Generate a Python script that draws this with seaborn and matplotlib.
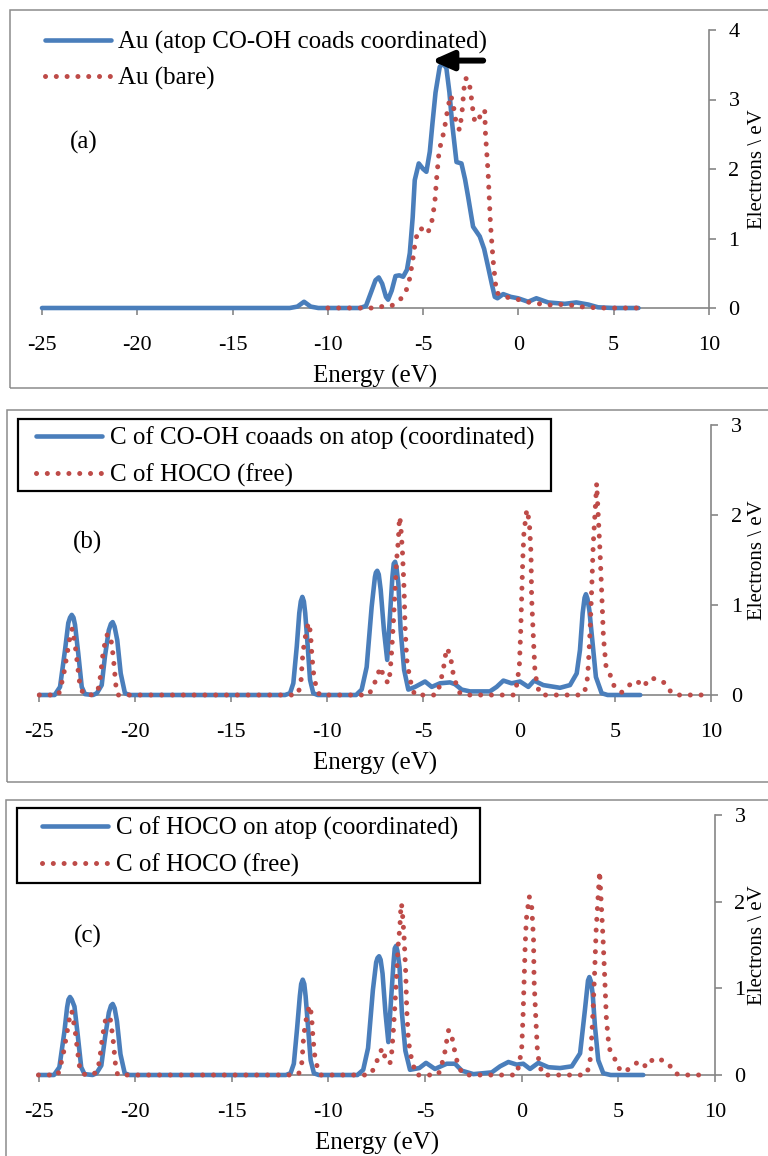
import matplotlib
matplotlib.use("Agg")
import matplotlib.pyplot as plt
import seaborn as sns
import pandas as pd
from matplotlib.patches import Rectangle

# --- Datos (energia en eV, DOS en electrones/eV) ---

# (a) Au
au_coord_e = [-25, -12.0, -11.6, -11.25, -10.9, -10.5, -8.3, -8.0, -7.7, -7.5, -7.33, -7.15, -6.95,
              -6.84, -6.65, -6.45, -6.25, -6.05, -5.85, -5.70, -5.55, -5.44, -5.23, -5.0, -4.83,
              -4.65, -4.51, -4.35, -4.13, -3.95, -3.78, -3.62, -3.48, -3.25, -2.99, -2.80, -2.64,
              -2.38, -2.03, -1.80, -1.59, -1.40, -1.24, -1.10, -0.80, -0.40, -0.02, 0.51, 0.94,
              1.56, 2.43, 3.04, 3.66, 4.18, 5.0, 6.3]
au_coord_d = [0, 0, 0.02, 0.09, 0.02, 0, 0, 0.03, 0.25, 0.40, 0.44, 0.35, 0.16,
              0.12, 0.25, 0.46, 0.47, 0.45, 0.55, 0.79, 1.30, 1.84, 2.08, 2.00, 1.96,
              2.25, 2.66, 3.10, 3.47, 3.52, 3.45, 3.10, 2.66, 2.10, 2.08, 1.85, 1.60,
              1.17, 1.03, 0.85, 0.59, 0.35, 0.16, 0.14, 0.20, 0.16, 0.14, 0.09, 0.14,
              0.08, 0.06, 0.08, 0.05, 0.01, 0, 0]

au_bare_e = [-10, -7.5, -7.19, -6.66, -6.14, -5.88, -5.70, -5.53, -5.39, -5.14, -4.77, -4.56,
             -4.39, -4.30, -4.16, -3.99, -3.87, -3.69, -3.55, -3.43, -3.25, -3.08, -2.95, -2.81,
             -2.64, -2.52, -2.38, -2.29, -2.12, -1.94, -1.77, -1.73, -1.59, -1.47, -1.33, -1.15,
             -0.98, -0.54, 0.02, 0.59, 0.94, 1.47, 2.0, 2.61, 3.13, 3.74, 4.2, 6.35]
au_bare_d = [0, 0, 0.02, 0.03, 0.14, 0.26, 0.43, 0.72, 1.00, 1.15, 1.07, 1.22,
             1.51, 1.84, 2.27, 2.44, 2.60, 2.90, 3.06, 2.94, 2.63, 2.56, 2.85, 3.30,
             3.30, 3.14, 2.82, 2.68, 2.68, 2.82, 2.85, 2.51, 1.94, 1.22, 0.69, 0.21,
             0.21, 0.15, 0.12, 0.08, 0.07, 0.04, 0.05, 0.05, 0.02, 0.01, 0, 0]

# (b) C de CO-OH coadsorbido en atop
c_cooh_e = [-25, -24.2, -23.92, -23.66, -23.49, -23.40, -23.31, -23.22, -23.14, -22.97,
            -22.79, -22.62, -22.2, -22.0, -21.75, -21.58, -21.38, -21.27, -21.18, -21.08,
            -20.94, -20.76, -20.54, -20.3, -12.2, -11.94, -11.77, -11.59, -11.46, -11.38,
            -11.30, -11.22, -11.15, -11.02, -10.90, -10.73, -10.5, -8.5, -8.21, -7.95,
            -7.69, -7.52, -7.47, -7.40, -7.32, -7.22, -7.05, -6.88, -6.74, -6.61,
            -6.54, -6.47, -6.40, -6.30, -6.18, -6.00, -5.78, -5.43, -4.91, -4.56,
            -4.13, -3.61, -3.35, -3.00, -2.57, -1.53, -1.18, -0.83, -0.40, 0.04,
            0.47, 0.77, 1.25, 2.12, 2.64, 2.99, 3.16, 3.30, 3.40, 3.47,
            3.55, 3.65, 3.82, 3.99, 4.29, 4.6, 6.3]
c_cooh_d = [0, 0, 0.09, 0.5, 0.80, 0.86, 0.89, 0.86, 0.78, 0.46,
            0.09, 0.01, 0, 0.02, 0.11, 0.43, 0.72, 0.79, 0.81, 0.76,
            0.61, 0.24, 0.02, 0, 0, 0.02, 0.13, 0.54, 0.91, 1.04,
            1.09, 1.04, 0.91, 0.54, 0.17, 0.02, 0, 0, 0.06, 0.31,
            0.98, 1.31, 1.36, 1.38, 1.34, 1.17, 0.72, 0.39, 0.87, 1.31,
            1.46, 1.48, 1.42, 1.24, 0.72, 0.28, 0.06, 0.09, 0.15, 0.09,
            0.13, 0.14, 0.12, 0.06, 0.04, 0.04, 0.09, 0.16, 0.13, 0.15,
            0.09, 0.16, 0.11, 0.08, 0.11, 0.24, 0.5, 0.91, 1.08, 1.12,
            1.07, 0.94, 0.57, 0.2, 0.02, 0, 0]

# (b) y (c) C de HOCO libre
c_hoco_free_e = [-25, -24.0, -23.75, -23.57, -23.40, -23.28, -23.10, -22.97, -22.88, -22.7, -22.2,
                 -21.95, -21.84, -21.70, -21.55, -21.46, -21.30, -21.15, -21.0, -20.9, -11.6,
                 -11.5, -11.37, -11.30, -11.25, -11.16, -10.99, -10.95, -10.87, -10.80, -10.69,
                 -10.55, -10.4, -7.86, -7.60, -7.43, -7.22, -7.05, -6.82, -6.73, -6.65, -6.56,
                 -6.47, -6.39, -6.30, -6.25, -6.22, -6.16, -6.09, -6.00, -5.95, -5.86, -5.69,
                 -5.45, -4.35, -4.22, -4.08, -3.96, -3.87, -3.78, -3.65, -3.52, -3.44, -3.30,
                 -3.09, -2.9, -0.30, -0.14, 0.0, 0.07, 0.12, 0.18, 0.24, 0.39, 0.52, 0.61, 0.64,
                 0.73, 0.82, 1.04, 1.2, 3.30, 3.51, 3.59, 3.68, 3.77, 3.85, 4.03, 4.20, 4.29,
                 4.38, 4.52, 4.81, 4.95, 5.33, 5.73, 6.11, 6.46, 6.81, 7.29, 7.59, 7.94, 8.2, 9.5]
c_hoco_free_d = [0, 0, 0.2, 0.43, 0.65, 0.74, 0.5, 0.26, 0.1, 0.01, 0,
                 0.05, 0.17, 0.43, 0.62, 0.67, 0.67, 0.43, 0.08, 0, 0,
                 0.03, 0.15, 0.39, 0.5, 0.63, 0.80, 0.80, 0.67, 0.43, 0.19,
                 0.07, 0, 0, 0.09, 0.2, 0.31, 0.19, 0.13, 0.25, 0.48, 0.80,
                 1.17, 1.5, 1.72, 1.94, 1.98, 1.83, 1.61, 1.17, 0.76, 0.39, 0.17,
                 0, 0, 0.05, 0.17, 0.28, 0.41, 0.52, 0.47, 0.35, 0.23, 0.13,
                 0.02, 0, 0, 0.11, 0.31, 0.69, 1.06, 1.5, 1.80, 2.06, 1.93, 1.57, 1.09,
                 0.65, 0.24, 0.02, 0, 0, 0.1, 0.31, 0.69, 1.17, 1.67, 2.35, 1.61, 1.15,
                 0.65, 0.31, 0.19, 0.09, 0.03, 0.11, 0.16, 0.09, 0.19, 0.17, 0.13, 0.02, 0, 0]

# (c) C de HOCO en atop
c_hoco_coord_e = [-25, -24.2, -23.92, -23.66, -23.52, -23.45, -23.37, -23.28, -23.14, -22.97,
                  -22.79, -22.62, -22.2, -22.0, -21.75, -21.56, -21.36, -21.25, -21.16, -21.06,
                  -20.94, -20.76, -20.54, -20.3, -12.2, -11.96, -11.79, -11.62, -11.48, -11.41,
                  -11.33, -11.25, -11.18, -11.05, -10.92, -10.75, -10.5, -8.5, -8.2, -7.95,
                  -7.7, -7.53, -7.46, -7.38, -7.30, -7.2, -7.05, -6.90, -6.76, -6.63,
                  -6.57, -6.50, -6.43, -6.32, -6.2, -6.02, -5.78, -5.3, -4.95, -4.49,
                  -3.88, -3.45, -3.10, -2.5, -1.55, -1.12, -0.69, -0.26, 0.08, 0.43,
                  0.86, 1.38, 1.98, 2.59, 3.02, 3.27, 3.43, 3.50, 3.58, 3.67,
                  3.79, 3.96, 4.22, 4.6, 6.29]
c_hoco_coord_d = [0, 0, 0.09, 0.5, 0.78, 0.87, 0.90, 0.87, 0.79, 0.46,
                  0.09, 0.01, 0, 0.02, 0.11, 0.43, 0.72, 0.80, 0.82, 0.77,
                  0.62, 0.24, 0.02, 0, 0, 0.02, 0.13, 0.54, 0.91, 1.05,
                  1.10, 1.05, 0.91, 0.54, 0.17, 0.02, 0, 0, 0.06, 0.31,
                  0.98, 1.30, 1.35, 1.37, 1.33, 1.17, 0.72, 0.38, 0.87, 1.30,
                  1.46, 1.49, 1.43, 1.24, 0.72, 0.28, 0.06, 0.08, 0.14, 0.07,
                  0.13, 0.13, 0.05, 0.01, 0.03, 0.10, 0.15, 0.12, 0.13, 0.07,
                  0.14, 0.09, 0.08, 0.10, 0.25, 0.75, 1.09, 1.13, 1.08, 0.94,
                  0.56, 0.17, 0.02, 0, 0]

xticks = [-25, -20, -15, -10, -5, 0, 5, 10]

AZUL = "#4a7ebb"
ROJO = "#be4b48"
GRIS = "#868686"
W, H = 768, 1156


def fx(px):
    return px / W


def fy(py):
    return 1 - py / H


def dibujar_panel(fig, rect, ymax, serie_azul, serie_roja, etiquetas, letra, letra_xy,
                  leg_xy, caja, marco):
    ax = fig.add_axes(rect)

    # marco gris de cada panel (como en Excel)
    fig.add_artist(Rectangle((fx(marco[0]), fy(marco[3])), fx(marco[2] - marco[0]),
                             (marco[3] - marco[1]) / H, transform=fig.transFigure,
                             fill=False, edgecolor="#8c8c8c", lw=1.1))

    df_a = pd.DataFrame({"E": serie_azul[0], "D": serie_azul[1]})
    df_r = pd.DataFrame({"E": serie_roja[0], "D": serie_roja[1]})
    sns.lineplot(data=df_a, x="E", y="D", ax=ax, color=AZUL, lw=3.3,
                 label=etiquetas[0], clip_on=False, solid_capstyle="round",
                 solid_joinstyle="round", zorder=3)
    sns.lineplot(data=df_r, x="E", y="D", ax=ax, color=ROJO, lw=3.6,
                 linestyle=(0, (0.01, 2.15)), dash_capstyle="round",
                 label=etiquetas[1], clip_on=False, zorder=4)

    ax.set_xlim(-25, 10)
    ax.set_ylim(0, ymax)
    ax.set_xticks(xticks)
    ax.set_yticks(range(0, ymax + 1))
    ax.yaxis.tick_right()
    for lado in ["left", "top"]:
        ax.spines[lado].set_visible(False)
    for lado in ["right", "bottom"]:
        ax.spines[lado].set_color(GRIS)
        ax.spines[lado].set_linewidth(1.2)
        ax.spines[lado].set_zorder(1)
    ax.tick_params(axis="x", direction="out", length=5, width=1.2, color=GRIS,
                   labelsize=16, pad=15, bottom=True)
    ax.tick_params(axis="y", direction="out", length=5, width=1.2, color=GRIS,
                   labelsize=16, pad=9, right=True, left=False)
    ax.set_xlabel("Energy (eV)", fontsize=18, labelpad=7)
    ax.set_ylabel("")
    ax.patch.set_alpha(0)

    # etiqueta del eje y a la derecha, pegada al borde de la figura
    pos = ax.get_position()
    x_lab = (767 / W - pos.x0) / pos.width
    ax.text(x_lab, 0.5, "Electrons \\ eV", rotation=90, ha="right", va="center",
            fontsize=15, transform=ax.transAxes, clip_on=False)

    fig.text(fx(letra_xy[0]), fy(letra_xy[1]), letra, fontsize=18, ha="center", va="center")

    ax.legend(loc="upper left", bbox_to_anchor=(fx(leg_xy[0]), fy(leg_xy[1])),
              bbox_transform=fig.transFigure, borderaxespad=0, fontsize=18,
              frameon=False, handlelength=2.64, handletextpad=0.3,
              labelspacing=0.52, borderpad=0)

    # caja negra de la leyenda dibujada aparte
    if caja is not None:
        fig.add_artist(Rectangle((fx(caja[0]), fy(caja[3])), fx(caja[2] - caja[0]),
                                 (caja[3] - caja[1]) / H, transform=fig.transFigure,
                                 fill=False, edgecolor="black", lw=1.6, zorder=5))
    return ax


def ejecutar_graficas():
    sns.set_theme(style="white")
    plt.rcParams["font.family"] = ["Liberation Serif", "DejaVu Serif"]
    plt.rcParams["axes.unicode_minus"] = False
    plt.rcParams["text.color"] = "black"
    plt.rcParams["xtick.color"] = "black"
    plt.rcParams["ytick.color"] = "black"
    plt.rcParams["axes.labelcolor"] = "black"

    fig = plt.figure(figsize=(W / 100, H / 100), dpi=100)

    # (a)
    ax_a = dibujar_panel(
        fig, [fx(42), fy(308), fx(709 - 42), (308 - 30) / H], 4,
        (au_coord_e, au_coord_d), (au_bare_e, au_bare_d),
        ["Au (atop CO-OH coads coordinated)", "Au (bare)"],
        "(a)", (84, 142), (45, 31), None, (10, 10, 772, 388))
    ax_a.annotate("", xy=(-4.56, 3.56), xytext=(-1.85, 3.56),
                  arrowprops=dict(arrowstyle="-|>,head_length=0.45,head_width=0.2",
                                  lw=4.3, color="black", shrinkA=0, shrinkB=0,
                                  mutation_scale=28))

    # (b)
    dibujar_panel(
        fig, [fx(39.3), fy(695), fx(711.3 - 39.3), (695 - 425) / H], 3,
        (c_cooh_e, c_cooh_d), (c_hoco_free_e, c_hoco_free_d),
        ["C of CO-OH coaads on atop (coordinated)", "C of HOCO (free)"],
        "(b)", (87, 542), (36, 427), (18, 419, 551, 491), (7, 410, 772, 782))

    # (c)
    dibujar_panel(
        fig, [fx(38.5), fy(1075), fx(715 - 38.5), (1075 - 815) / H], 3,
        (c_hoco_coord_e, c_hoco_coord_d), (c_hoco_free_e, c_hoco_free_d),
        ["C of HOCO on atop (coordinated)", "C of HOCO (free)"],
        "(c)", (88, 936), (42, 817), (17, 808, 480, 883), (6, 800, 772, 1160))

    fig.savefig("out.png", dpi=100)
    plt.close(fig)
    print("--- Grafica guardada en out.png ---")


if __name__ == "__main__":
    ejecutar_graficas()
